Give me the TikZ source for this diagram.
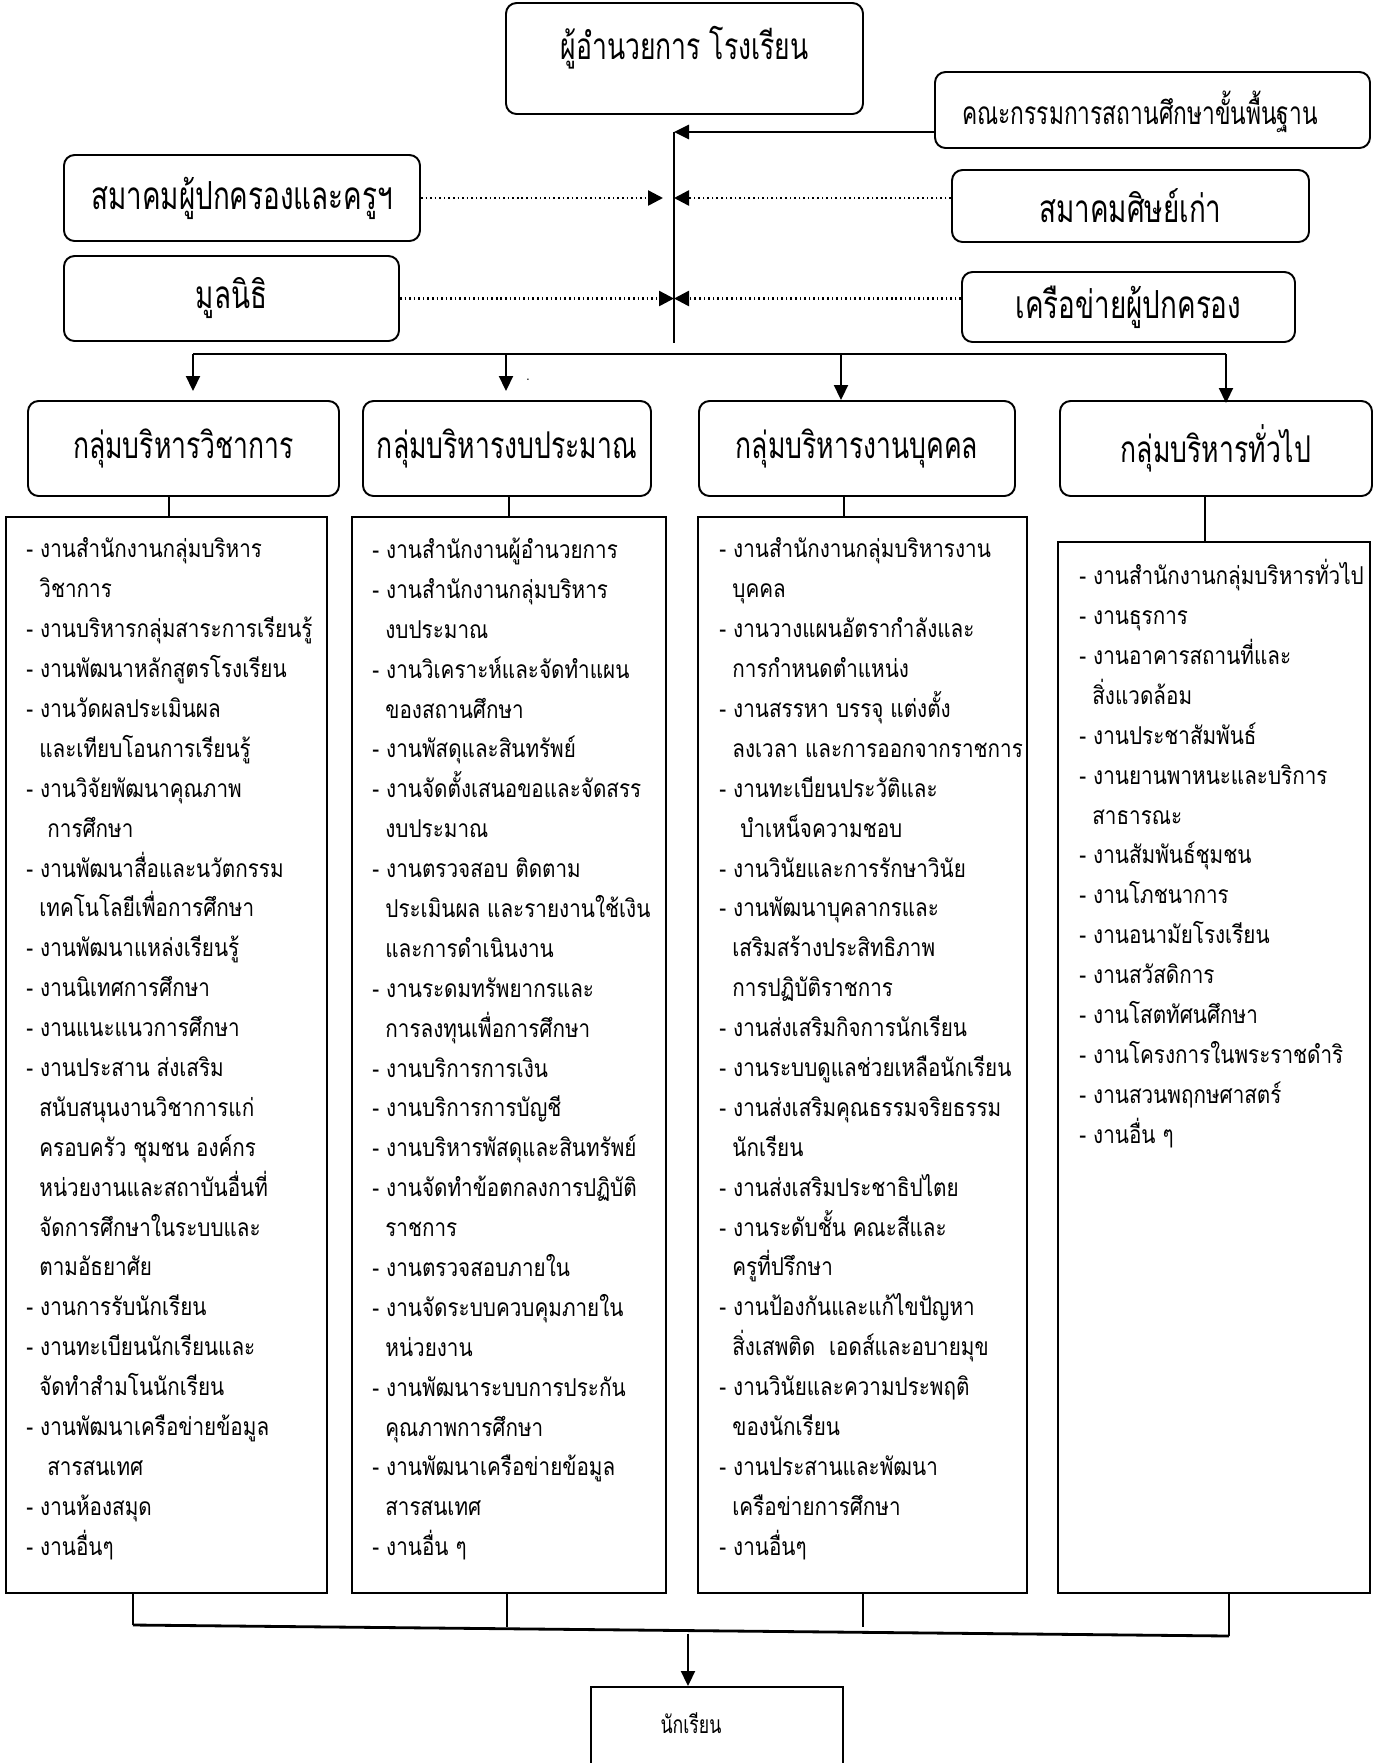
\documentclass[tikz,border=0pt]{standalone}
\usepackage{fontspec}
\usepackage{tikz}
\usetikzlibrary{calc, arrows.meta, positioning}
\newfontfamily\thaifont[Script=Thai,FakeStretch=0.84]{Loma}
\newfontfamily\thaihead[Script=Thai,FakeStretch=0.72]{Loma}
\newcommand{\ind}{\hspace*{0.26cm}}
\newcommand{\indd}{\hspace*{0.42cm}}

\begin{document}
\begin{tikzpicture}[
        topbox/.style={rectangle, draw, line width=1.1pt, rounded corners=6pt, font=\thaihead\fontsize{22}{26}\selectfont},
        groupbox/.style={rectangle, draw, line width=1.1pt, rounded corners=6pt, minimum height=1.9cm, font=\thaihead\fontsize{21}{25}\selectfont},
        listbox/.style={rectangle, draw, line width=1.1pt, minimum height=21.52cm},
        listtext/.style={anchor=north west, align=left, inner sep=0pt, font=\thaifont\fontsize{14}{22.7}\selectfont},
        arrow/.style={-{Triangle[length=0.3cm, width=0.28cm]}, line width=1.1pt},
        dotline/.style={-{Triangle[length=0.3cm, width=0.3cm]}, line width=1.4pt, dash pattern=on 0.9pt off 1.7pt}
    ]
        \useasboundingbox (0,0) rectangle (27.56,-35.26);

        % Top boxes
        \node[topbox, minimum width=7.14cm, minimum height=2.22cm] (director) at (13.69,-1.17) {};
        \node[font=\thaihead\fontsize{21}{25}\selectfont] (directortitle) at (13.69,-0.96) {ผู้อำนวยการ โรงเรียน};
        \node[topbox, minimum width=8.7cm, minimum height=1.52cm] (committee) at (23.05,-2.2) {};
        \node[font=\thaihead\fontsize{18}{22}\selectfont] (committeetitle) at (22.8,-2.24) {คณะกรรมการสถานศึกษาขั้นพื้นฐาน};
        \node[topbox, minimum width=7.12cm, minimum height=1.72cm] (pta) at (4.84,-3.96) {สมาคมผู้ปกครองและครูฯ};
        \node[topbox, minimum width=6.7cm, minimum height=1.7cm] (foundation) at (4.63,-5.97) {มูลนิธิ};
        \node[topbox, minimum width=7.14cm, minimum height=1.44cm] (alumni) at (22.61,-4.12) {สมาคมศิษย์เก่า};
        \node[topbox, minimum width=6.66cm, minimum height=1.4cm] (network) at (22.57,-6.14) {เครือข่ายผู้ปกครอง};

        % Spine
        \coordinate (spinetop) at (13.48,-2.64);
        \coordinate (spinebot) at (13.48,-6.86);
        \draw[line width=1pt] (spinetop) -- (spinebot);
        \draw[arrow, line width=1.6pt] (committee.west |- spinetop) -- (spinetop);
        \draw[dotline] (pta.east) -- ([xshift=-0.22cm]spinetop |- pta.east);
        \draw[dotline] (alumni.west |- pta.east) -- (spinetop |- pta.east);
        \draw[dotline] (foundation.east) -- (spinetop |- foundation.east);
        \draw[dotline] (network.west |- foundation.east) -- (spinetop |- foundation.east);

        % Group headers
        \node[groupbox, minimum width=6.22cm] (academic) at (3.67,-8.97) {กลุ่มบริหารวิชาการ};
        \node[groupbox, minimum width=5.76cm] (budget) at (10.14,-8.97) {กลุ่มบริหารงบประมาณ};
        \node[groupbox, minimum width=6.32cm] (personnel) at (17.14,-8.97) {กลุ่มบริหารงานบุคคล};
        \node[groupbox, minimum width=6.24cm] (general) at (24.32,-8.97) {กลุ่มบริหารทั่วไป};

        % Bus to headers
        \coordinate (busA) at (3.86,-7.08);
        \coordinate (busB) at (10.12,-7.08);
        \coordinate (busC) at (16.82,-7.08);
        \coordinate (busD) at (24.52,-7.08);
        \draw[line width=1.6pt] (busA) -- (busD);
        \draw[arrow, shorten >=0.18cm] (busA) -- (busA |- academic.north);
        \draw[arrow, shorten >=0.18cm] (busB) -- (busB |- budget.north);
        \draw[arrow] (busC) -- (busC |- personnel.north);
        \draw[arrow] (busD) -- ([yshift=-0.06cm]busD |- general.north);
        \node[inner sep=0pt, font=\thaifont\fontsize{8}{8}\selectfont] (stray) at (10.56,-7.6) {.};

        % Task lists
        \node[listbox, minimum width=6.42cm] (academiclist) at (3.33,-21.1) {};
        \node[listbox, minimum width=6.28cm] (budgetlist) at (10.18,-21.1) {};
        \node[listbox, minimum width=6.58cm] (personnellist) at (17.25,-21.1) {};
        \node[listbox, minimum width=6.24cm, minimum height=21.02cm] (generallist) at (24.28,-21.35) {};

        \draw[line width=1.1pt] ([xshift=0.05cm]academiclist.north) -- ([xshift=0.05cm]academiclist.north |- academic.south);
        \draw[line width=1.1pt] (budgetlist.north) -- (budgetlist.north |- budget.south);
        \draw[line width=1.1pt] ([xshift=-0.37cm]personnellist.north) -- ([xshift=-0.37cm]personnellist.north |- personnel.south);
        \draw[line width=1.1pt] ([xshift=-0.18cm]generallist.north) -- ([xshift=-0.18cm]generallist.north |- general.south);

        \node[listtext] (academictext) at ([shift={(0.42,-0.43)}]academiclist.north west) {%
- งานสำนักงานกลุ่มบริหาร\\
\ind วิชาการ\\
- งานบริหารกลุ่มสาระการเรียนรู้\\
- งานพัฒนาหลักสูตรโรงเรียน\\
- งานวัดผลประเมินผล\\
\ind และเทียบโอนการเรียนรู้\\
- งานวิจัยพัฒนาคุณภาพ\\
\indd การศึกษา\\
- งานพัฒนาสื่อและนวัตกรรม\\
\ind เทคโนโลยีเพื่อการศึกษา\\
- งานพัฒนาแหล่งเรียนรู้\\
- งานนิเทศการศึกษา\\
- งานแนะแนวการศึกษา\\
- งานประสาน ส่งเสริม\\
\ind สนับสนุนงานวิชาการแก่\\
\ind ครอบครัว ชุมชน องค์กร\\
\ind หน่วยงานและสถาบันอื่นที่\\
\ind จัดการศึกษาในระบบและ\\
\ind ตามอัธยาศัย\\
- งานการรับนักเรียน\\
- งานทะเบียนนักเรียนและ\\
\ind จัดทำสำมโนนักเรียน\\
- งานพัฒนาเครือข่ายข้อมูล\\
\indd สารสนเทศ\\
- งานห้องสมุด\\
- งานอื่นๆ};

        \node[listtext] (budgettext) at ([shift={(0.42,-0.43)}]budgetlist.north west) {%
- งานสำนักงานผู้อำนวยการ\\
- งานสำนักงานกลุ่มบริหาร\\
\ind งบประมาณ\\
- งานวิเคราะห์และจัดทำแผน\\
\ind ของสถานศึกษา\\
- งานพัสดุและสินทรัพย์\\
- งานจัดตั้งเสนอขอและจัดสรร\\
\ind งบประมาณ\\
- งานตรวจสอบ ติดตาม\\
\ind ประเมินผล และรายงานใช้เงิน\\
\ind และการดำเนินงาน\\
- งานระดมทรัพยากรและ\\
\ind การลงทุนเพื่อการศึกษา\\
- งานบริการการเงิน\\
- งานบริการการบัญชี\\
- งานบริหารพัสดุและสินทรัพย์\\
- งานจัดทำข้อตกลงการปฏิบัติ\\
\ind ราชการ\\
- งานตรวจสอบภายใน\\
- งานจัดระบบควบคุมภายใน\\
\ind หน่วยงาน\\
- งานพัฒนาระบบการประกัน\\
\ind คุณภาพการศึกษา\\
- งานพัฒนาเครือข่ายข้อมูล\\
\ind สารสนเทศ\\
- งานอื่น ๆ};

        \node[listtext] (personneltext) at ([shift={(0.44,-0.43)}]personnellist.north west) {%
- งานสำนักงานกลุ่มบริหารงาน\\
\ind บุคคล\\
- งานวางแผนอัตรากำลังและ\\
\ind การกำหนดตำแหน่ง\\
- งานสรรหา บรรจุ แต่งตั้ง\\
\ind ลงเวลา และการออกจากราชการ\\
- งานทะเบียนประวัติและ\\
\indd บำเหน็จความชอบ\\
- งานวินัยและการรักษาวินัย\\
- งานพัฒนาบุคลากรและ\\
\ind เสริมสร้างประสิทธิภาพ\\
\ind การปฏิบัติราชการ\\
- งานส่งเสริมกิจการนักเรียน\\
- งานระบบดูแลช่วยเหลือนักเรียน\\
- งานส่งเสริมคุณธรรมจริยธรรม\\
\ind นักเรียน\\
- งานส่งเสริมประชาธิปไตย\\
- งานระดับชั้น คณะสีและ\\
\ind ครูที่ปรึกษา\\
- งานป้องกันและแก้ไขปัญหา\\
\ind สิ่งเสพติด\ \ เอดส์และอบายมุข\\
- งานวินัยและความประพฤติ\\
\ind ของนักเรียน\\
- งานประสานและพัฒนา\\
\ind เครือข่ายการศึกษา\\
- งานอื่นๆ};

        \node[listtext] (generaltext) at ([shift={(0.44,-0.36)}]generallist.north west) {%
- งานสำนักงานกลุ่มบริหารทั่วไป\\
- งานธุรการ\\
- งานอาคารสถานที่และ\\
\ind สิ่งแวดล้อม\\
- งานประชาสัมพันธ์\\
- งานยานพาหนะและบริการ\\
\ind สาธารณะ\\
- งานสัมพันธ์ชุมชน\\
- งานโภชนาการ\\
- งานอนามัยโรงเรียน\\
- งานสวัสดิการ\\
- งานโสตทัศนศึกษา\\
- งานโครงการในพระราชดำริ\\
- งานสวนพฤกษศาสตร์\\
- งานอื่น ๆ};

        % Join to students
        \coordinate (joinA) at (2.66,-32.5);
        \coordinate (joinB) at (10.14,-32.54);
        \coordinate (joinC) at (17.26,-32.54);
        \coordinate (joinD) at (24.58,-32.72);
        \draw[line width=1.1pt] (academiclist.south -| joinA) -- (joinA);
        \draw[line width=1.1pt] (budgetlist.south -| joinB) -- (joinB);
        \draw[line width=1.1pt] (personnellist.south -| joinC) -- (joinC);
        \draw[line width=1.1pt] (generallist.south -| joinD) -- (joinD);
        \draw[line width=1.6pt] (joinA) -- (joinD);

        \node[rectangle, draw, line width=1.1pt, minimum width=5.04cm, minimum height=1.6cm] (student) at (14.34,-34.54) {};
        \node[font=\thaihead\fontsize{14}{17}\selectfont] (studenttitle) at (13.82,-34.46) {นักเรียน};
        \coordinate (studentin) at (13.76,-32.67);
        \draw[arrow] (studentin) -- (studentin |- student.north);
    \end{tikzpicture}
\end{document}
